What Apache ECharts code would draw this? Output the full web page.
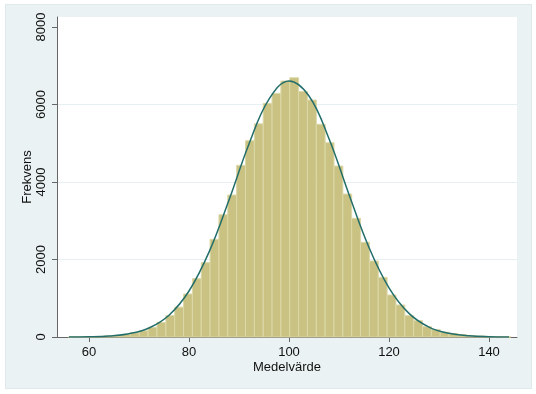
<!DOCTYPE html>
<html>
<head>
<meta charset="utf-8">
<script src="https://cdn.jsdelivr.net/npm/echarts@6/dist/echarts.min.js"></script>
<style>
  html, body { margin: 0; padding: 0; background: #ffffff; }
  #wrap { position: relative; width: 536px; height: 394px; }
  #frame { position: absolute; left: 5px; top: 4px; width: 527px; height: 385px;
           background: #eaf2f3; border: 1px solid #dfe9eb; box-sizing: border-box; }
  #chart { position: absolute; left: 0; top: 0; width: 536px; height: 394px; }
</style>
</head>
<body>
<div id="wrap">
  <div id="frame"></div>
  <div id="chart"></div>
</div>
<script>
// Histogram: 50 bins starting at binStart, each binWidth wide
const binStart = 55.9;
const binWidth = 1.77;
const counts = [
  2, 4, 8, 15, 26, 43, 68, 110, 160, 250,
  375, 555, 770, 1110, 1505, 1918, 2520, 3156, 3664, 4430,
  5065, 5500, 6029, 6287, 6605, 6690, 6335, 6115, 5488, 5013,
  4412, 3689, 3062, 2443, 1961, 1540, 1084, 826, 550, 421,
  266, 190, 125, 90, 60, 40, 25, 14, 8, 4
];
// Overlaid normal-density curve
const curveX = [56, 60, 64, 68, 72, 76, 80, 84, 88, 92, 96, 100, 104, 108, 112, 116, 120, 124, 128, 132, 136, 140, 144];
const curveY = [2, 7, 27, 84, 233, 562, 1187, 2191, 3534, 4981, 6137, 6609, 6220, 5117, 3679, 2311, 1270, 609, 256, 94, 30, 8, 2];
// Axis ticks
const xTicks = [60, 80, 100, 120, 140];
const yTicks = [0, 2000, 4000, 6000, 8000];

const barData = counts.map((c, i) => [binStart + i * binWidth, binStart + (i + 1) * binWidth, c]);
const curveData = curveX.map((x, i) => [x, curveY[i]]);

const font = "'Liberation Sans', Arial, sans-serif";
const chart = echarts.init(document.getElementById('chart'), null, { renderer: 'canvas' });
chart.setOption({
  animation: false,
  grid: { left: 57, right: 19, top: 17, bottom: 57, show: true, backgroundColor: '#ffffff', borderWidth: 0 },
  xAxis: {
    type: 'value', min: 53.6, max: 145.6,
    name: 'Medelvärde', nameLocation: 'middle', nameGap: 24, nameMoveOverlap: false,
    nameTextStyle: { fontFamily: font, fontSize: 13, color: '#111' },
    axisLine: { show: true, onZero: false, lineStyle: { color: '#666', width: 1 } },
    axisTick: { show: true, length: 5, customValues: xTicks, lineStyle: { color: '#666' } },
    axisLabel: { customValues: xTicks, margin: 9, fontFamily: font, fontSize: 13, color: '#111',
                 formatter: v => String(v) },
    splitLine: { show: false }
  },
  yAxis: {
    type: 'value', min: 0, max: 8258, interval: 2000,
    name: 'Frekvens', nameLocation: 'middle', nameGap: 23, nameMoveOverlap: false,
    nameTextStyle: { fontFamily: font, fontSize: 13, color: '#111' },
    axisLine: { show: true, lineStyle: { color: '#666', width: 1 } },
    axisTick: { show: true, length: 5, customValues: yTicks, lineStyle: { color: '#666' } },
    axisLabel: { customValues: yTicks, rotate: 90, margin: 9, fontFamily: font, fontSize: 13, color: '#111',
                 formatter: v => String(v) },
    splitLine: { show: true, lineStyle: { color: ['transparent', '#e6eff1', '#e6eff1', '#e6eff1', 'transparent', 'transparent'], width: 1 } }
  },
  series: [
    {
      type: 'custom',
      data: barData,
      encode: { x: [0, 1], y: 2 },
      renderItem: function (params, api) {
        const p0 = api.coord([api.value(0), api.value(2)]);
        const p1 = api.coord([api.value(1), 0]);
        return {
          type: 'rect',
          shape: { x: p0[0], y: p0[1], width: p1[0] - p0[0], height: p1[1] - p0[1] },
          style: { fill: '#c9c282', stroke: '#dcd8a8', lineWidth: 1 }
        };
      },
      z: 2
    },
    {
      type: 'line',
      data: curveData,
      smooth: 0.4,
      showSymbol: false,
      symbol: 'none',
      lineStyle: { color: '#236e6a', width: 1.5 },
      z: 3
    }
  ]
});
</script>
</body>
</html>
